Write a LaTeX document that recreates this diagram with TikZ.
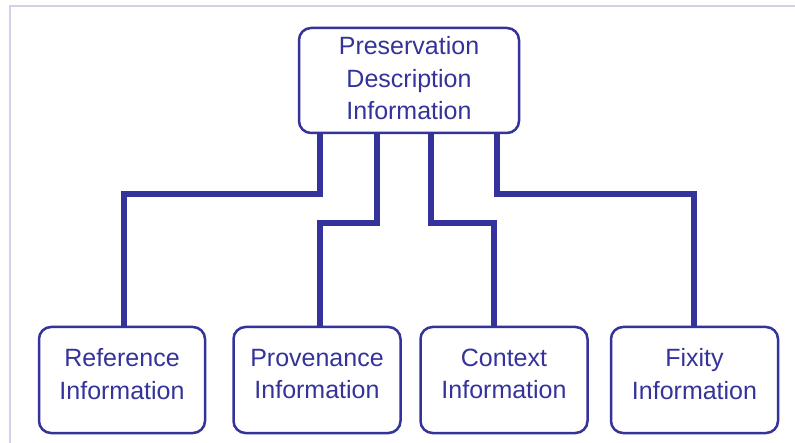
\documentclass[tikz,border=0pt]{standalone}
\usepackage{fontspec}
\setmainfont{Liberation Sans}
\definecolor{navy}{HTML}{333399}
\definecolor{frame}{HTML}{D4D0EC}
\begin{document}
\begin{tikzpicture}[x=1pt,y=-1pt,
  box/.style={draw=navy,line width=2.5pt,rounded corners=12pt,inner sep=0pt},
  lbl/.style={text=navy,align=center,inner sep=0pt,font=\fontsize{25}{32.5}\selectfont},
  conn/.style={draw=navy,line width=6pt,line join=miter}]
\useasboundingbox (0,0) rectangle (795,443);
\draw[frame,line width=2pt] (795,6) -- (10,6) -- (10,443);
\node[box,minimum width=220pt,minimum height=105pt] (pdi) at (409,80.5) {};
\node[lbl] (pdit) at ([yshift=2pt]pdi.center) {Preservation\\Description\\Information};
\node[box,minimum width=166pt,minimum height=106pt] (ref) at (122,380) {};
\node[box,minimum width=167pt,minimum height=106pt] (prov) at (317,380) {};
\node[box,minimum width=167pt,minimum height=106pt] (ctx) at (504,380) {};
\node[box,minimum width=167pt,minimum height=106pt] (fix) at (694.5,380) {};
\node[lbl] (reft) at ([yshift=6pt]ref.center) {Reference\\Information};
\node[lbl] (provt) at ([yshift=6pt]prov.center) {Provenance\\Information};
\node[lbl] (ctxt) at ([yshift=6pt]ctx.center) {Context\\Information};
\node[lbl] (fixt) at ([yshift=6pt]fix.center) {Fixity\\Information};
\coordinate (b1) at (124,194);
\coordinate (b2) at (320,223);
\coordinate (b3) at (494,223);
\coordinate (b4) at (694,194);
\draw[conn] ([xshift=-89pt]pdi.south) |- (b1) -- (b1 |- ref.north);
\draw[conn] ([xshift=-32pt]pdi.south) |- (b2) -- (b2 |- prov.north);
\draw[conn] ([xshift=22pt]pdi.south) |- (b3) -- (b3 |- ctx.north);
\draw[conn] ([xshift=88pt]pdi.south) |- (b4) -- (b4 |- fix.north);
\end{tikzpicture}
\end{document}
